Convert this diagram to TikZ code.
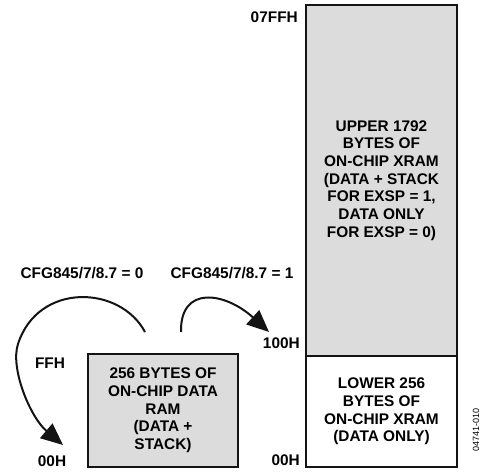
\documentclass[tikz,border=0pt]{standalone}
\usepackage{fontspec}
\setmainfont{Liberation Sans}
\usetikzlibrary{arrows.meta}

\definecolor{RamGrey}{RGB}{220,220,220}
\definecolor{LineBlack}{RGB}{20,20,20}

\begin{document}
\begin{tikzpicture}[x=1pt, y=1pt,
    membox/.style={draw=LineBlack, line width=1.8pt, fill=RamGrey, inner sep=0pt, align=center,
                   font=\fontsize{15.4}{17.7}\selectfont\bfseries},
    addr/.style={font=\fontsize{15.4}{17.7}\selectfont\bfseries, inner sep=0pt},
    jump/.style={-{Triangle[length=22pt, width=19pt]}, line width=2pt, LineBlack}]
\useasboundingbox (0,0) rectangle (482,472);
                % Data RAM
                \node[membox, minimum width=150, minimum height=113] (ram) at (163,61.5) {256 BYTES OF\\ON-CHIP DATA\\RAM\\(DATA +\\STACK)};
                \node[addr] (ramtop) at (50,109) {FFH};
                \node[addr] (rambot) at (52,11) {00H};
                
                % XRAM
                \node[membox, minimum width=151, minimum height=351] (upper) at (381.5,291.5) {UPPER 1792\\BYTES OF\\ON-CHIP XRAM\\(DATA + STACK\\FOR EXSP = 1,\\DATA ONLY\\FOR EXSP = 0)};
                \node[membox, fill=white, minimum width=151, minimum height=111] (lower) at (381.5,60.5) {LOWER 256\\BYTES OF\\ON-CHIP XRAM\\(DATA ONLY)};
                \node[addr, anchor=east] (xtop) at (298,455) {07FFH};
                \node[addr, anchor=east] (xmid) at (300,129) {100H};
                \node[addr, anchor=east] (xbot) at (300,12) {00H};
                
                % Config bits
                \node[addr] (cfg0) at (82,199) {CFG845/7/8.7 = 0};
                \node[addr] (cfg1) at (232,199) {CFG845/7/8.7 = 1};
                \node[font=\fontsize{9}{10}\selectfont, rotate=90] (fig) at (476,42) {04741-010};
                
                % Connecting lines
                \coordinate (s0) at (145,140);
                \coordinate (e0) at (63,27);
                \coordinate (s1) at (181,140);
                \coordinate (e1) at (269,140);
                \draw[jump] (s0) .. controls (120,187) and (38,190) .. (18,128) .. controls (10,104) and (30,55) .. (e0);
                \draw[jump] (s1) .. controls (180,187) and (225,180) .. (e1);
            \end{tikzpicture}
\end{document}
